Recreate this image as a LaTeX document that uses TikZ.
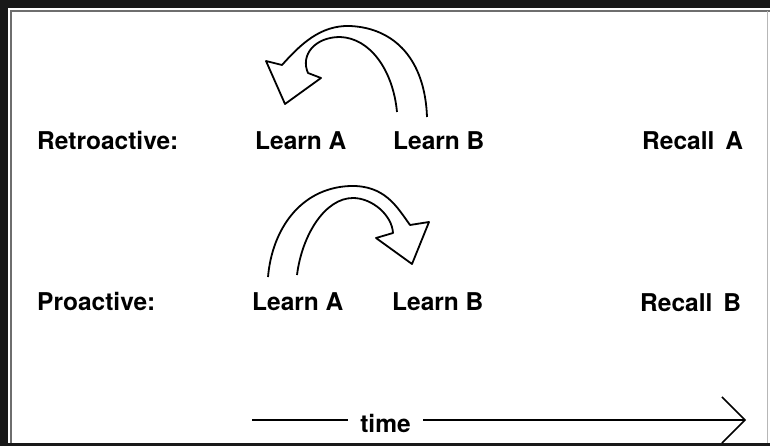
\documentclass[tikz,border=0pt]{standalone}
\usepackage{fontspec}
\setmainfont{TeX Gyre Heros}
\usetikzlibrary{arrows.meta}
\definecolor{frame}{RGB}{24,24,24}
\definecolor{rule}{RGB}{110,110,110}

\begin{document}
\begin{tikzpicture}[x=1pt,y=-1pt,
  lbl/.style={anchor=base west, inner sep=0pt, font=\fontsize{24.5}{28}\selectfont\bfseries},
  bent/.style={line width=1.8pt, line join=round}]
\useasboundingbox (0,0) rectangle (770,446);
\fill [frame] (0,0) rectangle (770,446);
\fill [white] (8,8) rectangle (770,443);
\draw [rule, line width=2pt] (11,443)--(11,11)--(770,11);
\draw [rule!50, line width=0.6pt] (767,11)--(767,443);

% first row
\node [lbl] (retro) at (37,150) {Retroactive:};
\node [lbl] (rlearnA) at (255,150) {Learn A};
\node [lbl] (rlearnB) at (393,150) {Learn B};
\node [lbl] (rrecall) at (642,150) {Recall\hspace{11pt}A};

% second row
\node [lbl] (pro) at (37,310) {Proactive:};
\node [lbl] (plearnA) at (252,310) {Learn A};
\node [lbl] (plearnB) at (392,310) {Learn B};
\node [lbl] (precall) at (640,311) {Recall\hspace{11pt}B};

% curved arrow, from B back to A
\draw [bent] (427,117) .. controls (425,60) and (395,28) .. (350,26)
  .. controls (320,25) and (300,45) .. (282,65)
  -- (266,61) -- (285,104) -- (321,78) -- (308,73)
  .. controls (300,55) and (315,37) .. (340,37)
  .. controls (370,38) and (393,70) .. (397,112);

% curved arrow, from A forward to B
\draw [bent] (268,277) .. controls (272,230) and (300,188) .. (350,186)
  .. controls (385,185) and (397,207) .. (410,225)
  -- (429,222) -- (412,264) -- (376,238) -- (393,233)
  .. controls (392,215) and (372,198) .. (353,198)
  .. controls (325,198) and (302,235) .. (297,275);

% time axis
\coordinate (t0) at (252,420);
\coordinate (t1) at (746,420);
\node [lbl, anchor=base, inner xsep=12.5pt] (time) at (385.5,432) {time};
\draw [line width=1.5pt] (t0) -- (time.west |- t0);
\draw [line width=1.5pt, -{Straight Barb[length=23pt,width=46pt,line width=1.5pt]}] (time.east |- t0) -- (t1);

\end{tikzpicture}
\end{document}
